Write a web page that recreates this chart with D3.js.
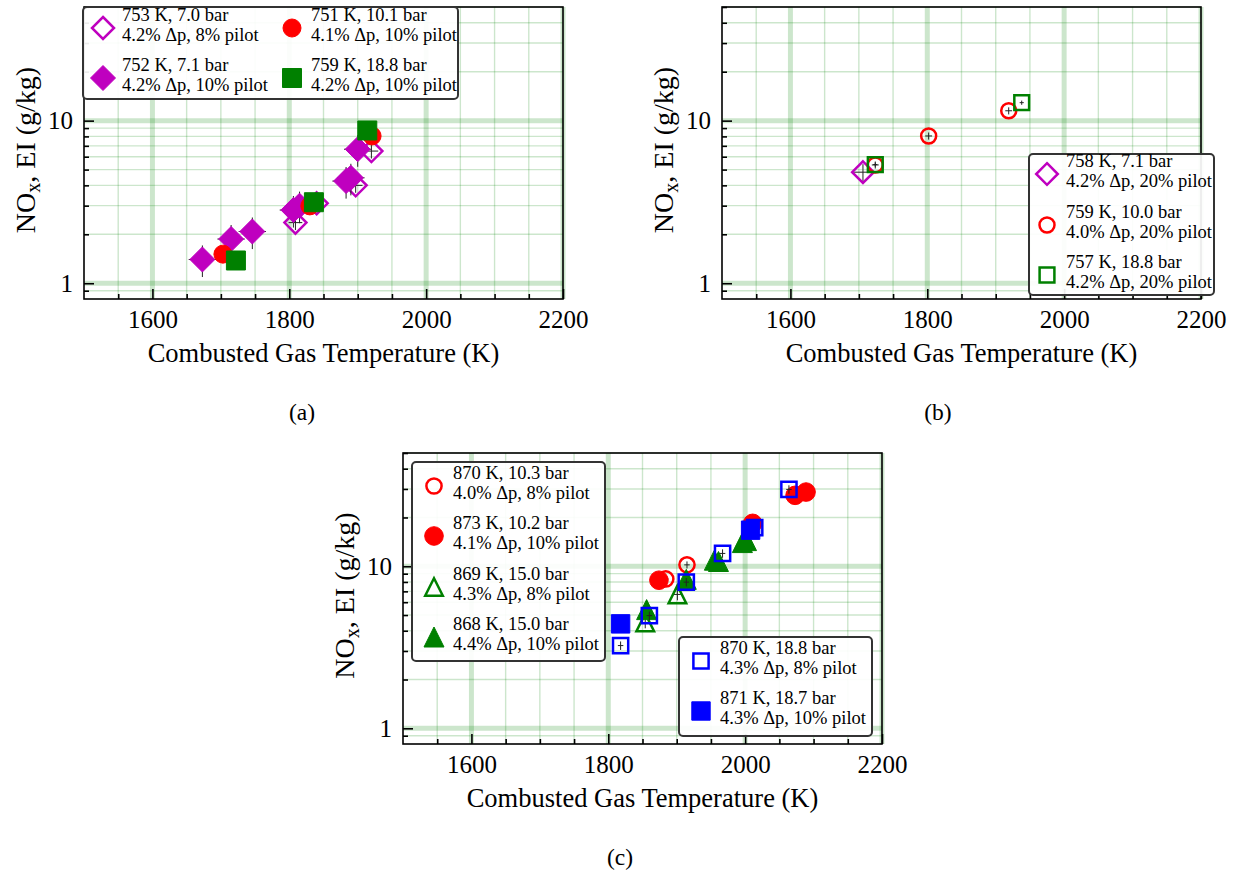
<!DOCTYPE html>
<html lang="en">
<head>
  <meta charset="UTF-8">
  <title>NOx EI vs Combusted Gas Temperature</title>
  <script src="https://d3js.org/d3.v7.min.js"></script>
  <style>
    body { margin: 0; background: #fff; }
    svg text { font-family: "Liberation Serif", "Times New Roman", serif; }
  </style>
</head>
<body>
  <div id="fig"></div>
  <script>
    const width = 1234;
    const height = 876;

    // ---- data ----
    // axis ticks
    const xMajor = [1600, 1800, 2000, 2200];
    const xMinor = d3.range(1550, 2200, 50).filter(v => !xMajor.includes(v));
    const yMajor = [1, 10];
    const yMinor = [0.9, 2, 3, 4, 5, 6, 7, 8, 9, 20, 30, 40, 50];

    // panel (a), ~750 K inlet
    const tA753 = [1809, 1840, 1897, 1920];
    const nA753 = [2.36, 3.10, 4.00, 6.50];
    const tA752 = [1673, 1715, 1746, 1806, 1815, 1883, 1890, 1900];
    const nA752 = [1.40, 1.87, 2.08, 2.82, 3.00, 4.25, 4.45, 6.67];
    const tA751 = [1703, 1830, 1921];
    const nA751 = [1.51, 2.99, 8.05];
    const tA759 = [1722, 1836, 1914];
    const nA759 = [1.38, 3.15, 8.70];

    // panel (b), 20% pilot
    const tB758 = [1706];
    const nB758 = [4.82];
    const tB759 = [1724, 1802, 1919];
    const nB759 = [5.34, 8.05, 11.5];
    const tB757 = [1724, 1938];
    const nB757 = [5.37, 12.9];

    // panel (c), ~870 K inlet
    const tC870a = [1884, 1915];
    const nC870a = [8.35, 10.2];
    const tC873 = [1874, 2011, 2073, 2089];
    const nC873 = [8.2, 18.4, 27.4, 28.7];
    const tC869 = [1854, 1901];
    const nC869 = [4.5, 6.7];
    const tC868 = [1856, 1914, 1955, 1961, 1996, 2002];
    const nC868 = [5.4, 8.3, 10.9, 10.7, 14.0, 14.4];
    const tC870b = [1818, 1860, 1914, 1967, 2014, 2064];
    const nC870b = [3.24, 4.96, 7.98, 12.0, 17.3, 29.8];
    const tC871 = [1818, 2008];
    const nC871 = [4.41, 16.7];

    // error bar half-widths per series (K, fraction of NOx)
    const errT = { a753: 10, a752: 20, a751: 6, a759: 6, b758: 13, b759: 5, b757: 3,
                   c870a: 4, c873: 5, c869: 5, c868: 5, c870b: 4, c871: 4 };
    const errN = { a753: 0.10, a752: 0.22, a751: 0.05, a759: 0.05, b758: 0.12, b759: 0.05, b757: 0.03,
                   c870a: 0.05, c873: 0.05, c869: 0.08, c868: 0.06, c870b: 0.06, c871: 0.05 };

    // legend text
    const labA = [["753 K, 7.0 bar", "4.2% Δp, 8% pilot"], ["752 K, 7.1 bar", "4.2% Δp, 10% pilot"],
                  ["751 K, 10.1 bar", "4.1% Δp, 10% pilot"], ["759 K, 18.8 bar", "4.2% Δp, 10% pilot"]];
    const labB = [["758 K, 7.1 bar", "4.2% Δp, 20% pilot"], ["759 K, 10.0 bar", "4.0% Δp, 20% pilot"],
                  ["757 K, 18.8 bar", "4.2% Δp, 20% pilot"]];
    const labC = [["870 K, 10.3 bar", "4.0% Δp, 8% pilot"], ["873 K, 10.2 bar", "4.1% Δp, 10% pilot"],
                  ["869 K, 15.0 bar", "4.3% Δp, 8% pilot"], ["868 K, 15.0 bar", "4.4% Δp, 10% pilot"],
                  ["870 K, 18.8 bar", "4.3% Δp, 8% pilot"], ["871 K, 18.7 bar", "4.3% Δp, 10% pilot"]];

    // ---- styles ----
    const FONT = "Liberation Serif, Times New Roman, serif";
    const MAG = "#bf00bf", RED = "#ff0000", GRN = "#008000", BLU = "#0000ff";
    const mk = (key, t, n, shape, color, filled, r) =>
      ({ key, pts: t.map((v, i) => ({ t: v, n: n[i] })), shape, color, filled, r });

    const shapePath = (shape, r) => {
      if (shape === "D") return `M0,${-r}L${r},0L0,${r}L${-r},0Z`;
      if (shape === "s") return `M${-r},${-r}H${r}V${r}H${-r}Z`;
      if (shape === "^") return `M0,${-r}L${r},${r}L${-r},${r}Z`;
      return `M${-r},0A${r},${r} 0 1,0 ${r},0A${r},${r} 0 1,0 ${-r},0Z`;
    };

    const panels = [
      {
        left: 84, top: 7, w: 479, h: 292, ylx: 25, cap: "(a)", capX: 302,
        series: [
          mk("a753", tA753, nA753, "D", MAG, false, 11),
          mk("a752", tA752, nA752, "D", MAG, true, 12.5),
          mk("a751", tA751, nA751, "o", RED, true, 9),
          mk("a759", tA759, nA759, "s", GRN, true, 9.5)
        ],
        legends: [{
          box: [83, 7, 375, 92],
          items: [
            { s: 0, x: 103, y: 28, lab: labA[0] }, { s: 1, x: 103, y: 78, lab: labA[1] },
            { s: 2, x: 292, y: 28, lab: labA[2] }, { s: 3, x: 292, y: 78, lab: labA[3] }
          ]
        }]
      },
      {
        left: 722, top: 7, w: 479, h: 292, ylx: 663, cap: "(b)", capX: 938,
        series: [
          mk("b758", tB758, nB758, "D", MAG, false, 10.8),
          mk("b759", tB759, nB759, "o", RED, false, 7.5),
          mk("b757", tB757, nB757, "s", GRN, false, 7.4)
        ],
        legends: [{
          box: [1029, 154, 185, 141],
          items: [
            { s: 0, x: 1047, y: 174, lab: labB[0] }, { s: 1, x: 1047, y: 225, lab: labB[1] },
            { s: 2, x: 1047, y: 275, lab: labB[2] }
          ]
        }]
      },
      {
        left: 403, top: 453, w: 479, h: 291, ylx: 344, cap: "(c)", capX: 620,
        series: [
          mk("c870a", tC870a, nC870a, "o", RED, false, 7.6),
          mk("c873", tC873, nC873, "o", RED, true, 9.3),
          mk("c869", tC869, nC869, "^", GRN, false, 8.8),
          mk("c868", tC868, nC868, "^", GRN, true, 10),
          mk("c870b", tC870b, nC870b, "s", BLU, false, 7.6),
          mk("c871", tC871, nC871, "s", BLU, true, 9.2)
        ],
        legends: [
          {
            box: [412, 462, 193, 199],
            items: [
              { s: 0, x: 434, y: 486, lab: labC[0] }, { s: 1, x: 434, y: 536, lab: labC[1] },
              { s: 2, x: 434, y: 587, lab: labC[2] }, { s: 3, x: 434, y: 637, lab: labC[3] }
            ]
          },
          {
            box: [679, 637, 193, 99],
            items: [
              { s: 4, x: 701, y: 661, lab: labC[4] }, { s: 5, x: 701, y: 711, lab: labC[5] }
            ]
          }
        ]
      }
    ];

    const svg = d3.select("#fig").append("svg")
      .attr("width", width)
      .attr("height", height)
      .attr("font-family", FONT);

    const drawMarker = (g, s, x, y) => {
      g.append("path")
        .attr("d", shapePath(s.shape, s.r))
        .attr("transform", `translate(${x},${y})`)
        .attr("fill", s.filled ? s.color : "none")
        .attr("stroke", s.color)
        .attr("stroke-width", s.filled ? 1 : 2.5)
        .attr("stroke-linejoin", "miter");
    };

    panels.forEach(p => {
      const x = d3.scaleLinear().domain([1500, 2200]).range([p.left, p.left + p.w]);
      const y = d3.scaleLog().domain([0.8, 50]).range([p.top + p.h, p.top]);
      const g = svg.append("g");

      // grid
      const grid = g.append("g").attr("stroke", "#008000").attr("stroke-opacity", 0.2);
      xMinor.forEach(v => grid.append("line").attr("x1", x(v)).attr("x2", x(v))
        .attr("y1", p.top).attr("y2", p.top + p.h).attr("stroke-width", 1.4));
      yMinor.forEach(v => grid.append("line").attr("y1", y(v)).attr("y2", y(v))
        .attr("x1", p.left).attr("x2", p.left + p.w).attr("stroke-width", 1.4));
      xMajor.forEach(v => grid.append("line").attr("x1", x(v)).attr("x2", x(v))
        .attr("y1", p.top).attr("y2", p.top + p.h).attr("stroke-width", 5));
      yMajor.forEach(v => grid.append("line").attr("y1", y(v)).attr("y2", y(v))
        .attr("x1", p.left).attr("x2", p.left + p.w).attr("stroke-width", 5));

      // data: error bars under markers
      p.series.forEach(s => {
        const sg = g.append("g");
        s.pts.forEach(d => {
          const cx = x(d.t), cy = y(d.n);
          sg.append("line").attr("x1", x(d.t - errT[s.key])).attr("x2", x(d.t + errT[s.key]))
            .attr("y1", cy).attr("y2", cy).attr("stroke", "#222").attr("stroke-width", 1);
          sg.append("line").attr("x1", cx).attr("x2", cx)
            .attr("y1", y(d.n * (1 - errN[s.key]))).attr("y2", y(d.n * (1 + errN[s.key])))
            .attr("stroke", "#222").attr("stroke-width", 1);
        });
        s.pts.forEach(d => drawMarker(sg, s, x(d.t), y(d.n)));
      });

      // axes with inward ticks
      const bottom = p.top + p.h;
      const xAx = g.append("g").attr("transform", `translate(0,${bottom})`)
        .call(d3.axisBottom(x).tickValues(xMajor).tickSize(-10).tickPadding(11).tickFormat(d3.format("d")));
      g.append("g").attr("transform", `translate(0,${bottom})`)
        .call(d3.axisBottom(x).tickValues(xMinor).tickSize(-5).tickFormat(""));
      const yAx = g.append("g").attr("transform", `translate(${p.left},0)`)
        .call(d3.axisLeft(y).tickValues(yMajor).tickSize(-10).tickPadding(11).tickFormat(d3.format("d")));
      g.append("g").attr("transform", `translate(${p.left},0)`)
        .call(d3.axisLeft(y).tickValues(yMinor).tickSize(-5).tickFormat(""));
      g.selectAll(".domain").remove();
      g.selectAll(".tick line").attr("stroke", "#000").attr("stroke-width", 1.6);
      [xAx, yAx].forEach(a => a.attr("font-family", FONT).selectAll("text")
        .attr("font-size", 25).attr("fill", "#000"));

      // frame
      g.append("rect").attr("x", p.left).attr("y", p.top).attr("width", p.w).attr("height", p.h)
        .attr("fill", "none").attr("stroke", "#000").attr("stroke-width", 1.6);

      // axis labels
      g.append("text")
        .attr("x", p.left + p.w / 2).attr("y", bottom + 63)
        .attr("text-anchor", "middle").attr("font-size", 26.5)
        .text("Combusted Gas Temperature (K)");
      const yl = g.append("text")
        .attr("transform", `translate(${p.ylx},${p.top + p.h / 2 - 3}) rotate(-90)`)
        .attr("text-anchor", "middle").attr("dy", "0.35em").attr("font-size", 28);
      yl.append("tspan").text("NO");
      yl.append("tspan").attr("font-size", 20).attr("dy", 5).text("x");
      yl.append("tspan").attr("dy", -5).text(", EI (g/kg)");

      // caption
      g.append("text").attr("x", p.capX).attr("y", bottom + 121)
        .attr("text-anchor", "middle").attr("font-size", 23.5).text(p.cap);

      // legends
      p.legends.forEach(L => {
        const lg = g.append("g");
        lg.append("rect").attr("x", L.box[0]).attr("y", L.box[1])
          .attr("width", L.box[2]).attr("height", L.box[3])
          .attr("rx", 4).attr("fill", "#fff").attr("fill-opacity", 0.92)
          .attr("stroke", "#333").attr("stroke-width", 2);
        L.items.forEach(it => {
          drawMarker(lg, p.series[it.s], it.x, it.y);
          const t = lg.append("text").attr("font-size", 18.5).attr("fill", "#000");
          t.append("tspan").attr("x", it.x + 19).attr("y", it.y - 7).text(it.lab[0]);
          t.append("tspan").attr("x", it.x + 19).attr("y", it.y + 13).text(it.lab[1]);
        });
      });
    });
  </script>
</body>
</html>
